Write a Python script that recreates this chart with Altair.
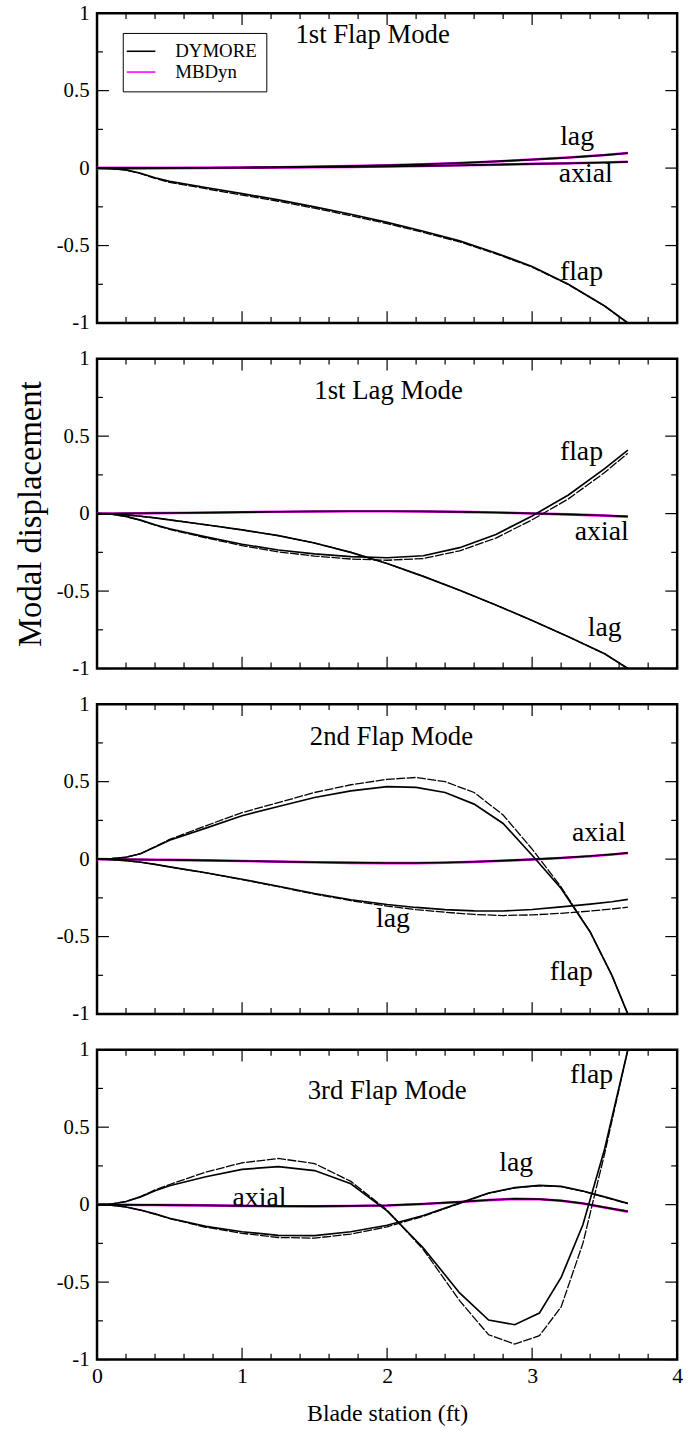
import altair as alt
import pandas as pd

FONT = "Liberation Serif"
W, H = 586, 313
MAJ, MIN = 12, 6

X_MAJOR = [0, 1, 2, 3, 4]
X_MINOR = [0.2, 0.4, 0.6, 0.8, 1.2, 1.4, 1.6, 1.8, 2.2, 2.4, 2.6, 2.8, 3.2, 3.4, 3.6, 3.8]
Y_MAJOR = [-1, -0.5, 0, 0.5, 1]
Y_MINOR = [-0.75, -0.25, 0.25, 0.75]

# blade stations for panels 1-2
XG = [0, 0.1, 0.2, 0.3, 0.4, 0.5, 0.75, 1.0, 1.25, 1.5, 1.75, 2.0, 2.25, 2.5, 2.75, 3.0, 3.25, 3.5, 3.66]

# ---- Panel 1: 1st Flap Mode
P1_FLAP_DY = [0, -0.003, -0.012, -0.033, -0.062, -0.086, -0.125, -0.165, -0.205, -0.25, -0.298, -0.35, -0.408, -0.47, -0.548, -0.635, -0.75, -0.89, -1.0]
P1_FLAP_MB = [0, -0.003, -0.013, -0.035, -0.066, -0.092, -0.133, -0.174, -0.214, -0.259, -0.307, -0.358, -0.415, -0.476, -0.553, -0.639, -0.752, -0.89, -1.0]
P1_LAG_DY = [0, 0, 0, 0, 0.001, 0.001, 0.002, 0.004, 0.006, 0.009, 0.013, 0.018, 0.025, 0.033, 0.043, 0.055, 0.068, 0.084, 0.097]
P1_LAG_MB = [0, 0, 0, 0, 0.001, 0.001, 0.002, 0.004, 0.006, 0.009, 0.013, 0.018, 0.025, 0.033, 0.043, 0.055, 0.068, 0.084, 0.098]
P1_AXIAL_DY = [0, 0, 0, 0, 0, 0.001, 0.001, 0.002, 0.004, 0.006, 0.008, 0.011, 0.014, 0.018, 0.022, 0.027, 0.031, 0.036, 0.04]
P1_AXIAL_MB = [0, 0, 0, 0, 0, 0.001, 0.001, 0.002, 0.004, 0.006, 0.008, 0.011, 0.014, 0.018, 0.022, 0.027, 0.031, 0.036, 0.041]

# ---- Panel 2: 1st Lag Mode
P2_FLAP_DY = [0, -0.004, -0.018, -0.042, -0.072, -0.098, -0.15, -0.198, -0.235, -0.26, -0.278, -0.285, -0.272, -0.22, -0.135, -0.015, 0.12, 0.29, 0.41]
P2_FLAP_MB = [0, -0.004, -0.019, -0.044, -0.075, -0.102, -0.156, -0.207, -0.247, -0.274, -0.293, -0.301, -0.29, -0.24, -0.158, -0.04, 0.095, 0.265, 0.39]
P2_LAG_DY = [0, -0.002, -0.008, -0.017, -0.028, -0.04, -0.072, -0.105, -0.142, -0.19, -0.25, -0.322, -0.405, -0.495, -0.59, -0.69, -0.795, -0.905, -1.0]
P2_LAG_MB = [0, -0.002, -0.008, -0.017, -0.028, -0.04, -0.072, -0.105, -0.142, -0.19, -0.25, -0.322, -0.405, -0.495, -0.59, -0.69, -0.795, -0.905, -1.0]
P2_AXIAL_DY = [0, 0, 0.001, 0.002, 0.003, 0.004, 0.006, 0.009, 0.012, 0.014, 0.015, 0.015, 0.014, 0.011, 0.007, 0.001, -0.005, -0.012, -0.018]
P2_AXIAL_MB = [0, 0, 0.001, 0.002, 0.003, 0.004, 0.006, 0.009, 0.012, 0.014, 0.015, 0.015, 0.014, 0.011, 0.007, 0.001, -0.005, -0.013, -0.02]

# ---- Panel 3: 2nd Flap Mode
X3 = [0, 0.1, 0.2, 0.3, 0.4, 0.5, 0.75, 1.0, 1.25, 1.5, 1.75, 2.0, 2.2, 2.4, 2.6, 2.8, 3.0, 3.2, 3.4, 3.55, 3.66]
P3_FLAP_DY = [0, 0.003, 0.012, 0.035, 0.078, 0.122, 0.2, 0.28, 0.34, 0.398, 0.44, 0.468, 0.463, 0.43, 0.355, 0.23, 0.025, -0.19, -0.47, -0.75, -1.0]
P3_FLAP_MB = [0, 0.003, 0.012, 0.036, 0.08, 0.127, 0.215, 0.3, 0.365, 0.43, 0.48, 0.515, 0.527, 0.5, 0.43, 0.285, 0.065, -0.18, -0.47, -0.75, -1.0]
P3_LAG_DY = [0, -0.003, -0.01, -0.02, -0.034, -0.05, -0.088, -0.13, -0.175, -0.222, -0.262, -0.293, -0.312, -0.326, -0.334, -0.335, -0.325, -0.308, -0.29, -0.275, -0.26]
P3_LAG_MB = [0, -0.003, -0.01, -0.02, -0.034, -0.05, -0.089, -0.132, -0.178, -0.226, -0.268, -0.303, -0.326, -0.343, -0.357, -0.364, -0.36, -0.35, -0.335, -0.322, -0.31]
P3_AXIAL_DY = [0, -0.001, -0.002, -0.003, -0.004, -0.005, -0.008, -0.012, -0.016, -0.02, -0.023, -0.025, -0.025, -0.022, -0.017, -0.01, -0.002, 0.008, 0.02, 0.031, 0.04]
P3_AXIAL_MB = [0, -0.001, -0.002, -0.003, -0.004, -0.005, -0.008, -0.012, -0.016, -0.02, -0.024, -0.026, -0.026, -0.023, -0.018, -0.011, -0.003, 0.007, 0.019, 0.03, 0.039]

# ---- Panel 4: 3rd Flap Mode
X4 = [0, 0.1, 0.2, 0.3, 0.4, 0.5, 0.75, 1.0, 1.25, 1.5, 1.75, 2.0, 2.25, 2.5, 2.7, 2.88, 3.05, 3.2, 3.35, 3.5, 3.66]
P4_FLAP_DY = [0, 0.004, 0.02, 0.05, 0.09, 0.122, 0.18, 0.228, 0.245, 0.22, 0.135, -0.04, -0.28, -0.57, -0.745, -0.775, -0.70, -0.47, -0.13, 0.36, 1.0]
P4_FLAP_MB = [0, 0.004, 0.02, 0.052, 0.095, 0.13, 0.21, 0.27, 0.298, 0.265, 0.15, -0.035, -0.29, -0.62, -0.84, -0.90, -0.846, -0.66, -0.25, 0.33, 1.0]
P4_LAG_DY = [0, -0.004, -0.015, -0.035, -0.06, -0.088, -0.14, -0.175, -0.198, -0.2, -0.175, -0.133, -0.07, 0.01, 0.075, 0.11, 0.124, 0.118, 0.088, 0.05, 0.008]
P4_LAG_MB = [0, -0.004, -0.015, -0.036, -0.062, -0.09, -0.146, -0.185, -0.212, -0.216, -0.19, -0.143, -0.075, 0.008, 0.073, 0.108, 0.122, 0.116, 0.086, 0.048, 0.006]
P4_AXIAL_DY = [0, -0.001, -0.001, -0.002, -0.002, -0.003, -0.005, -0.008, -0.01, -0.01, -0.008, -0.005, 0.005, 0.018, 0.03, 0.038, 0.036, 0.026, 0.008, -0.018, -0.043]
P4_AXIAL_MB = [0, -0.001, -0.001, -0.002, -0.002, -0.003, -0.005, -0.008, -0.01, -0.011, -0.009, -0.006, 0.004, 0.017, 0.029, 0.037, 0.035, 0.025, 0.007, -0.019, -0.045]

# panel titles and curve labels (text, x, y in data units)
TITLES = ["1st Flap Mode", "1st Lag Mode", "2nd Flap Mode", "3rd Flap Mode"]
TITLE_X = [1.9, 2.01, 2.03, 2.0]
TITLE_Y = [0.86, 0.79, 0.785, 0.73]
LABEL_TEXT = [["lag", "axial", "flap"], ["flap", "axial", "lag"], ["axial", "lag", "flap"], ["flap", "lag", "axial"]]
LABEL_X = [[3.31, 3.37, 3.34], [3.34, 3.48, 3.5], [3.46, 2.04, 3.27], [3.41, 2.89, 1.12]]
LABEL_Y = [[0.2, -0.04, -0.67], [0.4, -0.12, -0.74], [0.17, -0.39, -0.73], [0.835, 0.27, 0.045]]

MODELS = ["DYMORE", "MBDyn"]
COLORS = ["black", "#ff00ff"]


def long_df(xs, series, model):
    rows = []
    for name, vals in series.items():
        for xv, yv in zip(xs, vals):
            rows.append({"x": xv, "y": yv, "curve": name, "model": model})
    return pd.DataFrame(rows)


def make_panel(i, xs, dy, mb_black, mb_mag, show_x, y_title, legend):
    xaxis = None
    if show_x:
        xaxis = alt.Axis(values=X_MAJOR, ticks=False, domain=False, grid=False, labelFlush=False,
                         labelFont=FONT, labelFontSize=22, labelPadding=6, labelColor="black",
                         title="Blade station (ft)", titleFont=FONT, titleFontSize=24,
                         titleFontWeight="normal", titleColor="black", titlePadding=16)
    yaxis = alt.Axis(values=Y_MAJOR, labelExpr="'' + datum.value", ticks=False, domain=False, grid=False,
                     labelFont=FONT, labelFontSize=21, labelPadding=8, labelColor="black",
                     title="Modal displacement" if y_title else None, titleFont=FONT, titleFontSize=33,
                     titleFontWeight="normal", titleColor="black", titlePadding=9)
    xsc = alt.Scale(domain=[0, 4], nice=False, zero=False)
    ysc = alt.Scale(domain=[-1, 1], nice=False, zero=False)

    def X(f="x"):
        return alt.X(f"{f}:Q", scale=xsc, axis=xaxis, title="Blade station (ft)" if show_x else None)

    def Y(f="y"):
        return alt.Y(f"{f}:Q", scale=ysc, axis=yaxis, title="Modal displacement" if y_title else None)

    df_mag = long_df(xs, mb_mag, "MBDyn")
    df_mbb = long_df(xs, mb_black, "MBDyn")
    df_dy = long_df(xs, dy, "DYMORE")

    leg = None
    if legend:
        leg = alt.Legend(title=None, orient="none", legendX=26, legendY=20, strokeColor="black",
                         padding=9, rowPadding=1, symbolType="M-1.7,0L1.7,0", symbolSize=289,
                         symbolStrokeWidth=1.6, labelFont=FONT, labelFontSize=19, labelOffset=25,
                         labelColor="black", fillColor="white")

    mag = alt.Chart(df_mag).mark_line(strokeWidth=2.6).encode(
        x=X(), y=Y(),
        color=alt.Color("model:N", scale=alt.Scale(domain=MODELS, range=COLORS), legend=leg),
        detail="curve:N")
    mbb = alt.Chart(df_mbb).mark_line(color="black", strokeWidth=1.3, strokeDash=[9, 1.5]).encode(
        x=X(), y=Y(), detail="curve:N")
    dym = alt.Chart(df_dy).mark_line(color="black", strokeWidth=1.7).encode(
        x=X(), y=Y(), detail="curve:N")

    lab_df = pd.DataFrame({"x": LABEL_X[i], "y": LABEL_Y[i], "t": LABEL_TEXT[i]})
    labels = alt.Chart(lab_df).mark_text(font=FONT, fontSize=28, color="black", baseline="middle").encode(
        x=X(), y=Y(), text="t:N")
    ttl_df = pd.DataFrame({"x": [TITLE_X[i]], "y": [TITLE_Y[i]], "t": [TITLES[i]]})
    ttl = alt.Chart(ttl_df).mark_text(font=FONT, fontSize=27, color="black", baseline="middle").encode(
        x=X(), y=Y(), text="t:N")

    xt = pd.DataFrame({"x": X_MAJOR + X_MINOR, "len": [MAJ] * len(X_MAJOR) + [MIN] * len(X_MINOR)})
    yt = pd.DataFrame({"y": Y_MAJOR + Y_MINOR, "len": [MAJ] * len(Y_MAJOR) + [MIN] * len(Y_MINOR)})
    tick_layers = []
    for ln in (MAJ, MIN):
        xs_ = xt[xt["len"] == ln]
        ys_ = yt[yt["len"] == ln]
        tick_layers.append(alt.Chart(xs_).mark_rule(color="black", strokeWidth=1.2).encode(
            x=X(), y=alt.value(H), y2=alt.value(H - ln)))
        tick_layers.append(alt.Chart(xs_).mark_rule(color="black", strokeWidth=1.2).encode(
            x=X(), y=alt.value(0), y2=alt.value(ln)))
        tick_layers.append(alt.Chart(ys_).mark_rule(color="black", strokeWidth=1.2).encode(
            y=Y(), x=alt.value(0), x2=alt.value(ln)))
        tick_layers.append(alt.Chart(ys_).mark_rule(color="black", strokeWidth=1.2).encode(
            y=Y(), x=alt.value(W), x2=alt.value(W - ln)))

    return alt.layer(*tick_layers, mag, mbb, dym, labels, ttl).properties(width=W, height=H)


p1 = make_panel(0, XG,
                {"flap": P1_FLAP_DY, "lag": P1_LAG_DY, "axial": P1_AXIAL_DY},
                {"flap": P1_FLAP_MB},
                {"lag": P1_LAG_MB, "axial": P1_AXIAL_MB},
                False, False, True)
p2 = make_panel(1, XG,
                {"flap": P2_FLAP_DY, "lag": P2_LAG_DY, "axial": P2_AXIAL_DY},
                {"flap": P2_FLAP_MB, "lag": P2_LAG_MB},
                {"axial": P2_AXIAL_MB},
                False, True, False)
p3 = make_panel(2, X3,
                {"flap": P3_FLAP_DY, "lag": P3_LAG_DY, "axial": P3_AXIAL_DY},
                {"flap": P3_FLAP_MB, "lag": P3_LAG_MB},
                {"axial": P3_AXIAL_MB},
                False, False, False)
p4 = make_panel(3, X4,
                {"flap": P4_FLAP_DY, "lag": P4_LAG_DY, "axial": P4_AXIAL_DY},
                {"flap": P4_FLAP_MB, "lag": P4_LAG_MB},
                {"axial": P4_AXIAL_MB},
                True, False, False)

chart = alt.vconcat(p1, p2, p3, p4, spacing=11).resolve_scale(color="independent").properties(
    padding={"left": 13, "top": -7, "right": 10, "bottom": 10}, background="white"
).configure(font=FONT).configure_axis(
    labelFont=FONT, titleFont=FONT, labelColor="black", titleColor="black"
).configure_legend(labelFont=FONT).configure_view(stroke="black", strokeWidth=2.5)

chart.save("out.html", embed_options={"renderer": "svg", "actions": False})
